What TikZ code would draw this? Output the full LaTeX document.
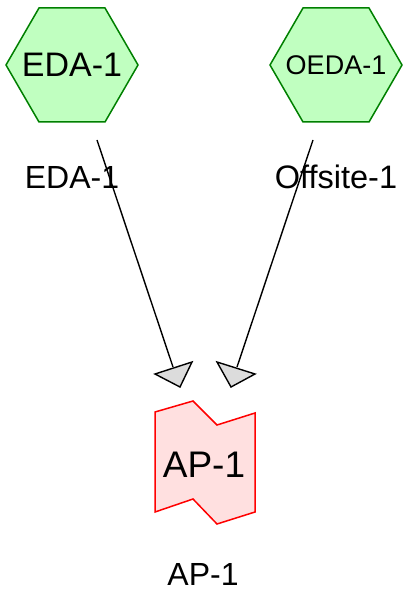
\documentclass[tikz,border=0pt]{standalone}
\usepackage{fontspec}
\setmainfont{Liberation Sans}
\usetikzlibrary{shapes}
\usetikzlibrary{positioning}
\usetikzlibrary{calc}

\definecolor{hexfill}{HTML}{C0FFC0}
\definecolor{hexline}{HTML}{008000}
\definecolor{apfill}{HTML}{FFE0E0}
\definecolor{tipfill}{HTML}{DCDCDC}

\newcommand{\hexagon}[1]{%
  \path[hexline] ($(#1)+(-66,0)$) -- ($(#1)+(-33,-57)$) -- ($(#1)+(33,-57)$)
    -- ($(#1)+(66,0)$) -- ($(#1)+(33,57)$) -- ($(#1)+(-33,57)$) -- cycle;}

\begin{document}
\begin{tikzpicture}[x=1pt,y=-1pt,
  hexline/.style={draw=hexline,fill=hexfill,line width=1.5pt,line join=miter},
  hexbox/.style={inner sep=0pt},
  aptext/.style={inner sep=0pt,font=\fontsize{37}{37}\selectfont},
  tag/.style={inner sep=0pt,font=\fontsize{32}{32}\selectfont},
  tip/.style={draw=black,fill=tipfill,line width=1.4pt,line join=miter},
  link/.style={draw=black,line width=1.4pt}]
  \useasboundingbox (0,0) rectangle (402,593);
  % sources
  \coordinate (edac) at (72,65);
  \coordinate (oedac) at (336,65);
  \hexagon{edac}
  \hexagon{oedac}
  \node[hexbox,font=\fontsize{34}{34}\selectfont] (eda) at (edac) {EDA-1};
  \node[hexbox,font=\fontsize{27}{27}\selectfont] (oeda) at (oedac) {OEDA-1};
  \node[tag] (edatag) at (72,177) {EDA-1};
  \node[tag,font=\fontsize{32.5}{32.5}\selectfont] (oedatag) at (336,177) {Offsite-1};
  % target
  \path[draw=red,fill=apfill,line width=1.5pt]
    (155,412) -- (193,401) -- (217,425) -- (255,413) -- (255,512)
    -- (217,524) -- (193,499) -- (155,512) -- cycle;
  \node[aptext] (ap) at (204,465) {AP-1};
  \node[tag] (aptag) at (203,574) {AP-1};
  % connectors
  \coordinate (s1) at (97,140);
  \coordinate (e1) at (173,367);
  \coordinate (s2) at (313,140);
  \coordinate (e2) at (237,367);
  \draw[link] (s1) -- (e1);
  \draw[link] (s2) -- (e2);
  \path[tip] (155,374) -- (192,362) -- (180,387) -- cycle;
  \path[tip] (217,362) -- (255,374) -- (231,387) -- cycle;
\end{tikzpicture}
\end{document}
